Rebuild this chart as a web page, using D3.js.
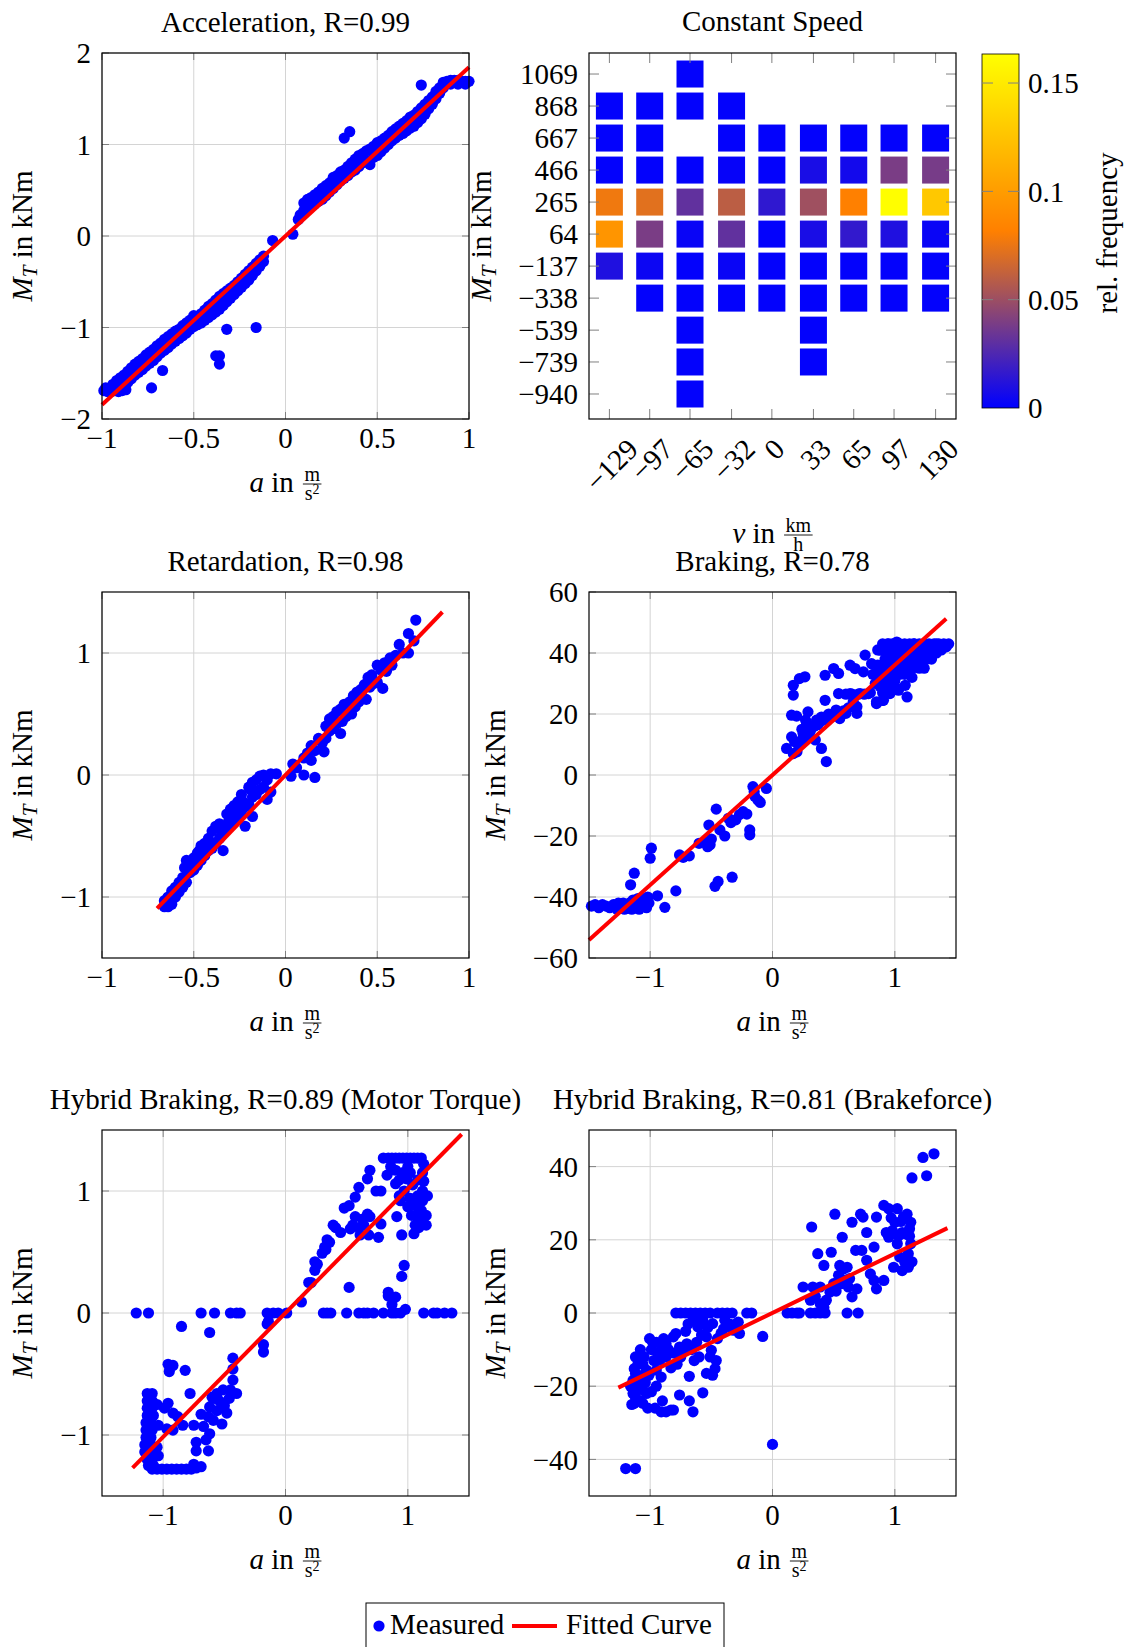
<!DOCTYPE html>
<html>
<head>
<meta charset="utf-8">
<script src="https://cdn.jsdelivr.net/npm/d3@7"></script>
<style>
  body { margin: 0; background: #fff; }
  svg { display: block; font-family: "Liberation Serif", "Times New Roman", serif; }
</style>
</head>
<body>
<svg id="fig" width="1131" height="1647"></svg>
<script>
// ---- data ----
const accelPts = [
  [-0.99,-1.69],[-0.97,-1.70],[-0.95,-1.70],[-0.93,-1.69],[-0.91,-1.70],[-0.89,-1.69],[-0.87,-1.68],[-0.98,-1.66],[-0.94,-1.66],
  [-0.94,-1.62],[-0.92,-1.58],[-0.92,-1.64],[-0.90,-1.55],[-0.90,-1.62],[-0.88,-1.52],[-0.88,-1.60],[-0.86,-1.48],[-0.86,-1.60],
  [-0.84,-1.44],[-0.84,-1.56],[-0.82,-1.40],[-0.82,-1.52],[-0.80,-1.37],[-0.80,-1.49],[-0.78,-1.34],[-0.78,-1.46],
  [-0.76,-1.30],[-0.76,-1.42],[-0.74,-1.27],[-0.74,-1.39],[-0.72,-1.24],[-0.72,-1.36],[-0.70,-1.20],[-0.70,-1.32],
  [-0.68,-1.17],[-0.68,-1.28],[-0.66,-1.13],[-0.66,-1.25],[-0.64,-1.10],[-0.64,-1.22],[-0.62,-1.07],[-0.62,-1.18],
  [-0.60,-1.04],[-0.60,-1.15],[-0.58,-1.02],[-0.58,-1.12],[-0.56,-0.98],[-0.56,-1.09],[-0.54,-0.95],[-0.54,-1.06],
  [-0.52,-0.92],[-0.52,-1.02],[-0.50,-0.87],[-0.50,-0.99],[-0.48,-0.88],[-0.48,-0.97],[-0.46,-0.85],[-0.46,-0.95],
  [-0.44,-0.81],[-0.44,-0.92],[-0.42,-0.77],[-0.42,-0.89],[-0.40,-0.74],[-0.40,-0.86],[-0.38,-0.70],[-0.38,-0.83],
  [-0.36,-0.66],[-0.36,-0.80],[-0.34,-0.63],[-0.34,-0.76],[-0.32,-0.60],[-0.32,-0.72],[-0.30,-0.57],[-0.30,-0.68],
  [-0.28,-0.54],[-0.28,-0.64],[-0.26,-0.50],[-0.26,-0.60],[-0.24,-0.46],[-0.24,-0.56],[-0.22,-0.42],[-0.22,-0.52],
  [-0.20,-0.38],[-0.20,-0.48],[-0.18,-0.34],[-0.18,-0.43],[-0.16,-0.30],[-0.16,-0.38],[-0.14,-0.26],[-0.14,-0.33],
  [-0.12,-0.22],[-0.12,-0.28],[-0.07,-0.05],[0.04,0.02],
  [-0.32,-1.02],[-0.16,-1.00],[-0.38,-1.31],[-0.36,-1.31],[-0.36,-1.40],[-0.73,-1.66],[-0.67,-1.47],
  [0.07,0.18],[0.08,0.23],[0.10,0.28],[0.10,0.36],[0.12,0.30],[0.12,0.40],[0.14,0.33],[0.14,0.42],[0.16,0.35],[0.16,0.45],
  [0.18,0.38],[0.18,0.48],[0.20,0.40],[0.20,0.52],[0.22,0.44],[0.22,0.55],[0.24,0.48],[0.24,0.58],[0.26,0.52],[0.26,0.64],
  [0.28,0.56],[0.28,0.66],[0.30,0.60],[0.30,0.70],[0.32,0.63],[0.32,0.72],[0.34,0.66],[0.34,0.76],[0.36,0.70],[0.36,0.80],
  [0.38,0.72],[0.38,0.84],[0.40,0.76],[0.40,0.88],[0.42,0.80],[0.42,0.90],[0.44,0.82],[0.44,0.93],[0.46,0.78],[0.46,0.95],
  [0.48,0.86],[0.48,0.98],[0.50,0.88],[0.50,1.02],[0.52,0.92],[0.52,1.04],[0.54,0.96],[0.54,1.07],[0.56,1.00],[0.56,1.10],
  [0.58,1.04],[0.58,1.14],[0.60,1.07],[0.60,1.17],[0.62,1.10],[0.62,1.20],[0.64,1.12],[0.64,1.23],[0.66,1.15],[0.66,1.26],
  [0.68,1.18],[0.68,1.30],[0.70,1.20],[0.70,1.32],[0.72,1.24],[0.72,1.36],[0.74,1.28],[0.74,1.40],[0.76,1.33],[0.76,1.44],
  [0.78,1.39],[0.78,1.48],[0.80,1.44],[0.80,1.52],[0.82,1.50],[0.82,1.58],[0.84,1.56],[0.84,1.62],[0.86,1.62],[0.86,1.68],
  [0.88,1.69],[0.90,1.70],[0.92,1.70],[0.94,1.70],[0.96,1.69],[0.98,1.69],[1.00,1.69],[0.90,1.66],[0.94,1.66],[0.98,1.66],
  [0.74,1.65],[0.32,1.07],[0.35,1.14]
];
const accelFit = [[-1, -1.845], [1, 1.845]];

const retardPts = [
  [-0.66,-1.08],[-0.64,-1.08],[-0.62,-1.06],[-0.64,-1.00],[-0.62,-0.95],[-0.60,-1.00],[-0.60,-0.92],[-0.58,-0.96],
  [-0.58,-0.88],[-0.56,-0.92],[-0.56,-0.84],[-0.55,-0.76],[-0.54,-0.70],[-0.54,-0.88],[-0.52,-0.80],[-0.52,-0.72],
  [-0.50,-0.78],[-0.50,-0.68],[-0.48,-0.74],[-0.48,-0.64],[-0.46,-0.70],[-0.46,-0.58],[-0.44,-0.66],[-0.44,-0.56],
  [-0.42,-0.62],[-0.42,-0.52],[-0.40,-0.60],[-0.40,-0.46],[-0.38,-0.56],[-0.38,-0.42],[-0.36,-0.52],[-0.36,-0.40],
  [-0.34,-0.62],[-0.34,-0.48],[-0.32,-0.44],[-0.32,-0.32],[-0.30,-0.40],[-0.30,-0.28],[-0.28,-0.36],[-0.28,-0.25],
  [-0.26,-0.34],[-0.26,-0.22],[-0.24,-0.30],[-0.24,-0.16],[-0.22,-0.42],[-0.22,-0.26],[-0.20,-0.24],[-0.20,-0.10],
  [-0.18,-0.34],[-0.18,-0.18],[-0.18,-0.06],[-0.16,-0.16],[-0.16,-0.04],[-0.14,-0.12],[-0.14,-0.01],[-0.12,0.00],
  [-0.12,-0.10],[-0.10,-0.20],[-0.10,-0.04],[-0.08,-0.14],[-0.08,0.01],[-0.05,0.01],
  [-0.47,-0.62],[-0.43,-0.60],[-0.35,-0.46],[-0.31,-0.38],[-0.27,-0.28],[-0.23,-0.22],[-0.19,-0.12],[-0.66,-1.03],
  [0.03,-0.01],[0.04,0.09],[0.06,0.06],[0.10,0.00],[0.10,0.14],[0.12,0.18],[0.14,0.24],[0.16,-0.02],[0.14,0.12],
  [0.16,0.20],[0.18,0.30],[0.20,0.26],[0.21,0.19],[0.22,0.40],[0.22,0.30],[0.24,0.36],[0.24,0.46],[0.26,0.48],
  [0.26,0.38],[0.28,0.42],[0.28,0.52],[0.30,0.34],[0.30,0.54],[0.31,0.44],[0.32,0.58],[0.33,0.48],[0.35,0.60],
  [0.36,0.50],[0.37,0.65],[0.38,0.56],[0.39,0.68],[0.40,0.60],[0.41,0.70],[0.42,0.64],[0.43,0.74],[0.44,0.62],
  [0.45,0.80],[0.46,0.72],[0.47,0.82],[0.48,0.75],[0.50,0.90],[0.50,0.76],[0.52,0.86],[0.53,0.71],[0.54,0.92],
  [0.55,0.85],[0.57,0.96],[0.58,0.90],[0.60,0.98],[0.62,1.07],[0.64,1.00],[0.67,1.00],[0.67,1.16],[0.70,1.10],[0.71,1.27]
];
const retardFit = [[-0.70, -1.094], [0.855, 1.336]];

const brakingPts = [
  [-1.48,-43],[-1.45,-42.5],[-1.42,-43.5],[-1.39,-42.5],[-1.36,-43],[-1.33,-43.5],[-1.30,-42.5],[-1.27,-44],[-1.24,-43],
  [-1.21,-44],[-1.18,-43],[-1.15,-44],[-1.12,-43],[-1.09,-44],[-1.06,-43],[-1.03,-43.5],[-1.01,-42],[-1.14,-41],
  [-1.10,-40.5],[-1.06,-40.5],[-1.02,-40],[-1.22,-42],[-1.26,-42],[-1.17,-42],[-1.08,-42],
  [-1.16,-36],[-1.13,-32.2],[-0.99,-24],[-1.00,-27.3],[-0.94,-39.6],[-0.88,-43.4],[-0.79,-38],[-0.76,-26.2],
  [-0.73,-27],[-0.68,-26.5],[-0.60,-22.4],[-0.55,-22],[-0.51,-22.9],[-0.52,-16.4],[-0.46,-11.2],[-0.47,-36.5],
  [-0.445,-34.9],[-0.33,-33.5],[-0.43,-18],[-0.39,-20],[-0.36,-14.2],[-0.30,-14.7],[-0.34,-15.6],[-0.27,-13],
  [-0.24,-12],[-0.21,-12.8],[-0.186,-18],[-0.186,-19.6],[-0.16,-3.8],[-0.145,-7],[-0.12,-8.2],[-0.10,-9],
  [-0.05,-4.4],[-0.15,-5.5],[-0.53,-23.5],[-0.50,-21],
  [0.115,8.7],[0.17,7],[0.20,7.6],[0.156,12.5],[0.156,19.6],[0.197,19.3],[0.17,26.2],[0.17,29.4],[0.22,31.6],
  [0.265,32.2],[0.29,20.7],[0.25,13.6],[0.306,15.8],[0.36,18],[0.35,11.5],[0.40,8.7],[0.44,4.4],[0.43,24.5],
  [0.43,32.7],[0.50,34.9],[0.54,33.3],[0.456,19.6],[0.52,21.3],[0.54,26.7],[0.55,18.5],[0.60,20.2],[0.634,26.7],
  [0.634,36],[0.675,34.9],[0.69,22.4],[0.69,20.2],[0.716,26.7],[0.743,33.8],[0.757,39.3],[0.784,26.7],[0.81,36.5],
  [0.85,23.4],[0.866,33.3],[0.88,40.9],[0.907,24.5],[0.92,31],[0.96,26.7],[0.975,35.4],[1.016,43.6],[1.03,27.8],
  [1.057,39.8],[1.085,29.4],[1.10,25.6],[1.126,34.3],[1.153,43],
  [0.22,10],[0.26,12],[0.30,14],[0.33,16],[0.38,17],[0.40,19],[0.28,17],[0.24,15],[0.18,11],[0.46,20],[0.50,19.5],
  [0.58,21],[0.62,22],[0.66,24],[0.70,26.5],[0.75,26.5],[0.80,27],[0.60,26.5],[0.65,26.5],
  [0.20,10.5],[0.24,11.5],[0.28,13],[0.31,14.5],[0.34,16],[0.37,16.5],[0.42,18],[0.45,18.5],[0.48,19],[0.27,18],
  [0.90,43],[0.95,43],[1.00,43],[1.04,43],[1.08,43],[1.12,43],[1.16,43],[1.20,43],[1.24,43],[1.28,43],[1.32,43],
  [1.36,43],[1.40,43],[1.44,43],[0.94,43],[0.98,43],[1.34,43],
  [0.86,41],[0.90,41],[0.94,41],[0.98,41],[1.02,41],[1.06,41],[1.10,41],[1.14,41],[1.18,41],[1.22,41],[1.26,41],[1.30,41],
  [0.92,38],[0.96,38],[1.00,38],[1.06,38],[1.12,38],[1.18,38],[1.22,38],[1.26,38],[1.30,38],
  [0.98,35],[1.02,35],[1.10,35],[1.14,35],[1.20,35],[1.24,35],
  [0.86,32],[0.92,32],[0.96,32],[1.00,32],[1.14,32],
  [0.84,30],[0.88,29],[0.92,28],[0.96,30],[1.00,29],[0.90,27],[0.82,33],[0.85,24],[0.90,24.5],
  [0.86,36],[0.88,34],[0.90,36],[0.92,34],[0.94,36],[0.96,33],[0.98,31],[0.88,31],[0.92,30],[0.96,29],[1.00,31],
  [1.04,33],[1.04,37],[1.08,37],[1.08,33],[1.16,37],[1.20,39],[1.24,40],[1.28,39.5],[1.34,40],[1.38,41],[1.42,42]
];
const brakingFit = [[-1.5, -54.1], [1.42, 51.2]];

const hybMotorPts = [
  [-1.22,0],[-1.12,0],[-0.69,0],[-0.58,0],[-0.45,0],[-0.40,0],[-0.37,0],[-0.15,0],[-0.06,0],[0.01,0],[-0.10,0],
  [0.31,0],[0.34,0],[0.37,0],[0.50,0],[0.60,0],[0.64,0],[0.67,0],[0.72,0],[0.80,0],[0.87,0],[0.90,0],[0.94,0],
  [0.98,0.03],[1.13,0],[1.21,0],[1.24,0],[1.30,0],[1.36,0],
  [-0.85,-0.11],[-0.62,-0.16],[-0.15,-0.09],[-0.14,-0.07],[-0.18,-0.26],[-0.18,-0.32],[0.13,0.09],
  [-0.96,-0.42],[-0.92,-0.43],[-0.95,-0.48],[-0.82,-0.47],[-0.78,-0.66],
  [-0.96,-0.74],[-0.92,-0.82],[-0.88,-0.85],[-0.92,-0.96],[-0.84,-0.92],[-0.75,-0.92],[-0.73,-1.06],[-0.73,-1.13],
  [-0.63,-1.13],[-0.65,-1.04],[-0.62,-0.99],[-0.67,-0.93],[-0.69,-0.83],[-0.63,-0.85],[-0.59,-0.88],[-0.60,-0.69],
  [-0.56,-0.80],[-0.54,-0.72],[-0.51,-0.63],[-0.45,-0.63],[-0.43,-0.55],[-0.40,-0.66],[-0.43,-0.46],[-0.43,-0.37],
  [-0.48,-0.82],[-0.52,-0.91],[-0.56,-0.66],[-0.58,-0.70],[-0.50,-0.76],[-0.46,-0.70],[-0.62,-0.77],
  [-1.13,-0.66],[-1.09,-0.66],[-1.13,-0.72],[-1.09,-0.72],[-1.13,-0.78],[-1.09,-0.78],[-1.13,-0.84],[-1.08,-0.84],
  [-1.14,-0.90],[-1.10,-0.90],[-1.14,-0.96],[-1.09,-0.96],[-1.14,-1.02],[-1.10,-1.02],[-1.15,-1.08],[-1.10,-1.08],
  [-1.15,-1.14],[-1.10,-1.14],[-1.13,-1.20],[-1.09,-1.20],[-1.12,-1.25],[-1.08,-1.25],[-1.05,-0.75],[-1.04,-0.92],
  [-1.05,-1.10],[-1.04,-1.17],[-0.99,-0.78],[-0.97,-0.95],[-1.11,-0.69],[-1.11,-0.87],[-1.12,-1.05],[-1.12,-1.17],
  [-1.09,-1.28],[-1.05,-1.28],[-1.01,-1.28],[-0.97,-1.28],[-0.93,-1.28],[-0.89,-1.28],[-0.85,-1.28],[-0.81,-1.28],
  [-0.77,-1.28],[-0.73,-1.27],[-0.69,-1.26],[-0.75,-1.24],
  [0.19,0.25],[0.21,0.25],[0.24,0.35],[0.24,0.42],[0.26,0.40],[0.30,0.49],[0.32,0.54],[0.34,0.60],[0.33,0.52],
  [0.36,0.58],[0.39,0.72],[0.41,0.70],[0.45,0.66],[0.48,0.86],[0.52,0.88],[0.53,0.69],[0.57,0.95],[0.57,0.79],
  [0.60,1.03],[0.63,0.77],[0.61,0.64],[0.67,0.81],[0.67,1.10],[0.69,0.79],[0.69,1.17],[0.68,0.64],[0.76,0.62],
  [0.78,0.73],[0.74,1.00],[0.78,1.00],[0.83,1.13],[0.80,1.27],[0.84,1.27],[0.87,1.27],[0.90,1.27],[0.93,1.27],
  [0.96,1.27],[0.99,1.27],[1.02,1.27],[1.05,1.27],[1.08,1.27],[1.11,1.27],[0.86,1.20],[0.90,1.17],[0.96,1.15],
  [0.93,1.09],[0.90,1.06],[0.97,1.00],[0.93,0.96],[0.94,0.92],[0.91,0.79],[0.95,0.64],[0.97,0.39],[0.95,0.30],
  [0.84,0.17],[0.90,0.13],[0.52,0.21],[0.87,0.07],[0.84,0.14],[0.55,0.72],[0.60,0.70],[0.64,0.72],
  [1.00,0.87],[1.02,0.94],[1.04,1.05],[1.05,0.65],[1.06,0.72],[1.07,0.80],[1.06,0.88],[1.08,0.96],[1.08,1.09],
  [1.09,0.70],[1.10,0.76],[1.11,0.84],[1.12,0.92],[1.12,1.00],[1.12,1.15],[1.13,1.22],[1.15,0.72],[1.15,0.80],
  [1.16,0.96],[1.03,0.80],[1.02,1.15],[0.99,1.10],[1.00,1.20],[1.13,1.08]
];
const hybMotorFit = [[-1.25, -1.27], [1.44, 1.465]];

const hybBrakePts = [
  [-1.20,-42.5],[-1.12,-42.5],[0.00,-35.9],[-0.08,-6.4],
  [-0.79,0],[-0.75,0],[-0.71,0],[-0.67,0],[-0.63,0],[-0.59,0],[-0.55,0],[-0.51,0],[-0.45,0],[-0.41,0],[-0.37,0],
  [-0.33,0],[-0.21,0],[-0.17,0],[0.12,0],[0.16,0],[0.20,0],[0.22,0],[0.31,0],[0.35,0],[0.39,0],[0.43,0],[0.61,0],[0.70,0],
  [-1.005,-7],[-0.98,-8],[-1.12,-12],[-1.13,-15.2],[-1.14,-18.4],[-1.14,-22],[-1.13,-24.7],[-1.06,-24.7],[-1.03,-22],
  [-0.99,-21.5],[-0.96,-26],[-0.91,-27],[-0.87,-27],[-0.83,-26.5],[-0.81,-26.5],[-0.76,-22.4],[-0.68,-24],[-0.65,-27],
  [-0.68,-17.3],[-0.57,-21.8],[-0.54,-16.5],[-0.49,-17],[-0.47,-15.2],[-0.51,-12],[-0.50,-10.2],[-0.54,-6.5],
  [-0.61,-3.8],[-0.65,-2],[-0.57,-2],[-0.49,-2.9],[-0.40,-4.3],[-0.39,-2],[-0.32,-4.7],[-0.27,-5.6],[-0.30,-3],
  [-0.91,-10.2],[-0.87,-8.4],[-0.81,-6.5],[-0.79,-5.6],[-0.76,-9.3],[-0.70,-8.4],[-0.73,-10],[-0.87,-12],[-0.92,-12.9],
  [-0.95,-15.6],[-0.91,-17.5],[-1.03,-15.6],[-1.05,-12],[-1.08,-10],[-1.10,-14],[-1.08,-18],[-1.10,-21],[-1.08,-24],
  [-1.04,-19],[-1.01,-17],[-0.97,-13],[-0.94,-11],[-0.85,-10],[-0.80,-11],[-0.75,-12],[-0.66,-10],[-0.62,-8],
  [-0.58,-6],[-0.64,-13],[-0.60,-12],[-0.45,-7],[-0.42,-5.5],[-0.35,-3],[-0.28,-2.5],[-1.16,-20],[-1.15,-25],
  [-1.02,-26],[-0.95,-20],[-0.90,-24],[-0.83,-15],[-0.78,-14],[-0.71,-5],[-0.69,-3],[-0.60,-1],[-0.53,-4],[-0.46,-13],
  [-1.12,-16.5],[-1.12,-20],[-1.12,-23],[-1.06,-14],[-1.06,-17],[-1.06,-21],[-0.99,-10],[-0.95,-8],[-0.89,-7],
  [0.32,23.5],[0.51,27],[0.37,16.2],[0.48,16.6],[0.42,13],[0.57,20.7],[0.65,24.8],[0.72,27],[0.74,26.2],[0.77,22],
  [0.68,17.1],[0.73,17.1],[0.83,18],[0.85,26.2],[0.91,29.4],[0.95,28.5],[1.02,28.5],[1.07,26.2],[1.13,24.8],
  [0.98,22.5],[0.95,20.7],[1.02,18.9],[1.04,15.3],[0.99,12.5],[1.06,11.6],[1.11,12.5],[1.11,16.2],[1.13,18.9],
  [1.09,21.6],[1.00,24.8],[1.06,22],[1.12,21],[1.08,14],[1.03,21],[0.93,22],[0.97,26],[1.10,27],[1.05,25],[1.14,14],
  [1.12,23],[1.14,36.9],[1.26,37.5],[1.23,42.5],[1.32,43.5],
  [0.25,7.1],[0.31,3.5],[0.39,2.5],[0.44,3.5],[0.47,5.7],[0.50,8],[0.54,10.3],[0.55,13],[0.61,12.5],[0.63,9.4],
  [0.62,7.1],[0.65,4.4],[0.69,6.6],[0.77,14.4],[0.80,10.7],[0.83,8.9],[0.85,6.6],[0.91,8.9],[0.33,7.1],[0.39,7.1],
  [0.35,4.5],[0.42,1.5],[0.58,12],[0.60,9],[0.52,6],[0.56,8]
];
const hybBrakeFit = [[-1.26, -20.4], [1.43, 23.2]];

// constant speed histogram: rows = torque bins, cols = speed bins
const heatSpeeds = [-129, -97, -65, -32, 0, 33, 65, 97, 130];
const heatTorques = [1069, 868, 667, 466, 265, 64, -137, -338, -539, -739, -940];
const heatFreq = [
  [null, null, 0.001, null, null, null, null, null, null],
  [0.001, 0.001, 0.001, 0.001, null, null, null, null, null],
  [0.001, 0.001, null, 0.001, 0.001, 0.001, 0.001, 0.001, 0.001],
  [0.001, 0.001, 0.001, 0.002, 0.001, 0.008, 0.006, 0.039, 0.038],
  [0.077, 0.072, 0.031, 0.060, 0.015, 0.051, 0.082, 0.163, 0.128],
  [0.095, 0.039, 0.003, 0.031, 0.001, 0.008, 0.016, 0.010, 0.003],
  [0.010, 0.004, 0.001, 0.003, 0.001, 0.001, 0.001, 0.001, 0.001],
  [null, 0.001, 0.001, 0.001, 0.001, 0.001, 0.001, 0.001, 0.001],
  [null, null, 0.001, null, null, 0.001, null, null, null],
  [null, null, 0.001, null, null, 0.001, null, null, null],
  [null, null, 0.001, null, null, null, null, null, null]
];
const colorbarTicks = [0, 0.05, 0.1, 0.15];

// ---- layout ----
const W = 367, H = 366, FS = 29, R = 5.6;
const svg = d3.select('#fig');
const fmt = v => (v < 0 ? '\u2212' : '') + Math.abs(v);

function xLabel(parent, cx, base, sym, num, den, sup) {
  const t = parent.append('text').attr('y', base).attr('font-size', FS);
  t.append('tspan').attr('font-style', 'italic').text(sym);
  t.append('tspan').text(' in');
  const tw = t.node().getComputedTextLength();
  const nm = parent.append('text').attr('font-size', 20).attr('text-anchor', 'middle').text(num);
  const fw = nm.node().getComputedTextLength() + 3;
  const x0 = cx - (tw + 9 + fw) / 2;
  t.attr('x', x0);
  const fc = x0 + tw + 9 + fw / 2;
  nm.attr('x', fc).attr('y', base - 11);
  parent.append('line')
    .attr('x1', fc - fw / 2).attr('x2', fc + fw / 2)
    .attr('y1', base - 8).attr('y2', base - 8)
    .attr('stroke', '#000').attr('stroke-width', 0.9);
  const dn = parent.append('text').attr('font-size', 20).attr('text-anchor', 'middle')
    .attr('x', fc).attr('y', base + 8);
  dn.append('tspan').text(den);
  if (sup) dn.append('tspan').attr('font-size', 14).attr('dy', -6).text(sup);
}

function yLabel(parent, bx, cy) {
  const t = parent.append('text').attr('font-size', FS).attr('text-anchor', 'middle')
    .attr('transform', `translate(${bx},${cy}) rotate(-90)`);
  t.append('tspan').attr('font-style', 'italic').text('M');
  t.append('tspan').attr('font-style', 'italic').attr('font-size', 21).attr('dy', 5).text('T');
  t.append('tspan').attr('dy', -5).text(' in kNm');
}

function scatter(o) {
  const g = svg.append('g').attr('transform', `translate(${o.x0},${o.y0})`);
  const x = d3.scaleLinear().domain(o.xDomain).range([0, W]);
  const y = d3.scaleLinear().domain(o.yDomain).range([H, 0]);

  g.append('g').selectAll('line').data(o.xTicks).join('line')
    .attr('x1', x).attr('x2', x).attr('y1', 0).attr('y2', H)
    .attr('stroke', '#d4d4d4').attr('stroke-width', 1);
  g.append('g').selectAll('line').data(o.yTicks).join('line')
    .attr('y1', y).attr('y2', y).attr('x1', 0).attr('x2', W)
    .attr('stroke', '#d4d4d4').attr('stroke-width', 1);

  const tk = g.append('g').attr('stroke', '#808080').attr('stroke-width', 1);
  o.xTicks.forEach(v => {
    tk.append('line').attr('x1', x(v)).attr('x2', x(v)).attr('y1', H).attr('y2', H - 7);
    tk.append('line').attr('x1', x(v)).attr('x2', x(v)).attr('y1', 0).attr('y2', 7);
  });
  o.yTicks.forEach(v => {
    tk.append('line').attr('y1', y(v)).attr('y2', y(v)).attr('x1', 0).attr('x2', 7);
    tk.append('line').attr('y1', y(v)).attr('y2', y(v)).attr('x1', W).attr('x2', W - 7);
  });

  g.append('g').selectAll('circle').data(o.points).join('circle')
    .attr('cx', d => x(d[0])).attr('cy', d => y(d[1])).attr('r', R)
    .attr('fill', '#0000ff');

  g.append('path').datum(o.fit)
    .attr('d', d3.line().x(d => x(d[0])).y(d => y(d[1])))
    .attr('fill', 'none').attr('stroke', '#ff0000').attr('stroke-width', 4);

  g.append('rect').attr('width', W).attr('height', H)
    .attr('fill', 'none').attr('stroke', '#000').attr('stroke-width', 1.2);

  g.append('g').selectAll('text').data(o.xTicks).join('text')
    .attr('x', x).attr('y', H + 29).attr('text-anchor', 'middle').attr('font-size', FS)
    .text(fmt);
  g.append('g').selectAll('text').data(o.yTicks).join('text')
    .attr('x', -11).attr('y', y).attr('dy', '0.35em').attr('text-anchor', 'end').attr('font-size', FS)
    .text(fmt);

  g.append('text').attr('x', W / 2).attr('y', -21).attr('text-anchor', 'middle')
    .attr('font-size', FS).text(o.title);
  yLabel(g, o.yLabelX, H / 2);
  xLabel(g, W / 2, H + 73, 'a', 'm', 's', '2');
}

scatter({ x0: 102, y0: 53, xDomain: [-1, 1], yDomain: [-2, 2],
  xTicks: [-1, -0.5, 0, 0.5, 1], yTicks: [-2, -1, 0, 1, 2],
  points: accelPts, fit: accelFit, title: 'Acceleration, R=0.99', yLabelX: -70 });
scatter({ x0: 102, y0: 592, xDomain: [-1, 1], yDomain: [-1.5, 1.5],
  xTicks: [-1, -0.5, 0, 0.5, 1], yTicks: [-1, 0, 1],
  points: retardPts, fit: retardFit, title: 'Retardation, R=0.98', yLabelX: -70 });
scatter({ x0: 589, y0: 592, xDomain: [-1.5, 1.5], yDomain: [-60, 60],
  xTicks: [-1, 0, 1], yTicks: [-60, -40, -20, 0, 20, 40, 60],
  points: brakingPts, fit: brakingFit, title: 'Braking, R=0.78', yLabelX: -84 });
scatter({ x0: 102, y0: 1130, xDomain: [-1.5, 1.5], yDomain: [-1.5, 1.5],
  xTicks: [-1, 0, 1], yTicks: [-1, 0, 1],
  points: hybMotorPts, fit: hybMotorFit, title: 'Hybrid Braking, R=0.89 (Motor Torque)', yLabelX: -70 });
scatter({ x0: 589, y0: 1130, xDomain: [-1.5, 1.5], yDomain: [-50, 50],
  xTicks: [-1, 0, 1], yTicks: [-40, -20, 0, 20, 40],
  points: hybBrakePts, fit: hybBrakeFit, title: 'Hybrid Braking, R=0.81 (Brakeforce)', yLabelX: -84 });

// ---- constant speed heatmap ----
const color = d3.scaleLinear().domain([0, 0.0817, 0.1634])
  .range(['#0000ff', '#ff8000', '#ffff00']).clamp(true);
const hg = svg.append('g').attr('transform', 'translate(589,53)');
const hx = d3.scaleLinear().domain([-145.2, 146.2]).range([0, W]);
const hy = d3.scaleLinear().domain([-1097, 1201]).range([H, 0]);
const cells = [];
heatFreq.forEach((row, i) => row.forEach((v, j) => {
  if (v !== null) cells.push({ s: heatSpeeds[j], t: heatTorques[i], v });
}));
hg.append('g').selectAll('rect').data(cells).join('rect')
  .attr('x', d => hx(d.s) - 13.5).attr('y', d => hy(d.t) - 13.5)
  .attr('width', 27).attr('height', 27).attr('fill', d => color(d.v));

const htk = hg.append('g').attr('stroke', '#808080').attr('stroke-width', 1);
heatSpeeds.forEach(v => {
  htk.append('line').attr('x1', hx(v)).attr('x2', hx(v)).attr('y1', H).attr('y2', H - 10);
  htk.append('line').attr('x1', hx(v)).attr('x2', hx(v)).attr('y1', 0).attr('y2', 10);
});
heatTorques.forEach(v => {
  htk.append('line').attr('y1', hy(v)).attr('y2', hy(v)).attr('x1', 0).attr('x2', 10);
  htk.append('line').attr('y1', hy(v)).attr('y2', hy(v)).attr('x1', W).attr('x2', W - 10);
});
hg.append('rect').attr('width', W).attr('height', H)
  .attr('fill', 'none').attr('stroke', '#000').attr('stroke-width', 1.2);

hg.append('g').selectAll('text').data(heatTorques).join('text')
  .attr('x', -11).attr('y', hy).attr('dy', '0.35em').attr('text-anchor', 'end')
  .attr('font-size', FS).text(fmt);
hg.append('g').selectAll('text').data(heatSpeeds).join('text')
  .attr('text-anchor', 'middle').attr('font-size', FS).attr('dy', '0.35em')
  .text(fmt)
  .each(function (d) {
    const w = this.getComputedTextLength();
    const cy = H + 18 + (w + 19) * 0.354;
    d3.select(this).attr('transform', `translate(${hx(d) + 2},${cy}) rotate(-45)`);
  });
hg.append('text').attr('x', W / 2).attr('y', -22).attr('text-anchor', 'middle')
  .attr('font-size', FS).text('Constant Speed');
yLabel(hg, -98, H / 2);
xLabel(hg, W / 2, H + 124, 'v', 'km', 'h', null);

// colorbar
const cb = svg.append('g').attr('transform', 'translate(982,54)');
const cbH = 354, cbW = 37;
const cy = d3.scaleLinear().domain([0, 0.1634]).range([cbH, 0]);
const grad = svg.append('defs').append('linearGradient').attr('id', 'cbgrad')
  .attr('x1', 0).attr('y1', 1).attr('x2', 0).attr('y2', 0);
grad.selectAll('stop').data(color.domain()).join('stop')
  .attr('offset', d => d / 0.1634).attr('stop-color', d => color(d));
cb.append('rect').attr('width', cbW).attr('height', cbH).attr('fill', 'url(#cbgrad)')
  .attr('stroke', '#000').attr('stroke-width', 0.8);
const ctk = cb.append('g').attr('stroke', '#808080').attr('stroke-width', 1);
colorbarTicks.filter(v => v > 0).forEach(v => {
  ctk.append('line').attr('x1', 0).attr('x2', 11).attr('y1', cy(v)).attr('y2', cy(v));
  ctk.append('line').attr('x1', cbW).attr('x2', cbW - 11).attr('y1', cy(v)).attr('y2', cy(v));
});
cb.append('g').selectAll('text').data(colorbarTicks).join('text')
  .attr('x', cbW + 9).attr('y', cy).attr('dy', '0.35em').attr('font-size', FS)
  .text(d => String(d));
cb.append('text').attr('font-size', FS).attr('text-anchor', 'middle')
  .attr('transform', `translate(${135},${179}) rotate(-90)`).text('rel. frequency');

// ---- legend ----
const lg = svg.append('g').attr('transform', 'translate(366,1603)');
lg.append('rect').attr('width', 358).attr('height', 52)
  .attr('fill', '#fff').attr('stroke', '#000').attr('stroke-width', 1);
lg.append('circle').attr('cx', 13).attr('cy', 23).attr('r', R).attr('fill', '#0000ff');
lg.append('text').attr('x', 24).attr('y', 31).attr('font-size', FS).text('Measured');
lg.append('line').attr('x1', 146).attr('x2', 191).attr('y1', 23).attr('y2', 23)
  .attr('stroke', '#ff0000').attr('stroke-width', 4);
lg.append('text').attr('x', 200).attr('y', 31).attr('font-size', FS).text('Fitted Curve');
</script>
</body>
</html>
